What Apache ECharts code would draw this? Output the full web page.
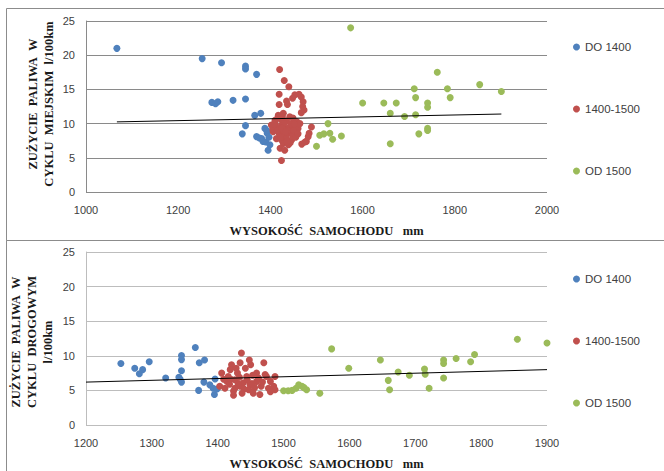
<!DOCTYPE html>
<html><head><meta charset="utf-8">
<script src="https://cdn.jsdelivr.net/npm/echarts@6/dist/echarts.min.js"></script>
<style>html,body{margin:0;padding:0;background:#fff}#c{width:664px;height:471px}</style>
</head><body><div id="c"></div>
<script>
// ---------- DATA ----------
const seriesNames = ['DO 1400', '1400-1500', 'OD 1500'];
const NB = '\u00a0';
const xTitle = 'WYSOKOŚĆ' + NB + NB + 'SAMOCHODU' + NB + NB + NB + 'mm';
const yTitleTop = 'ZUŻYCIE' + NB + NB + 'PALIWA' + NB + NB + 'W\nCYKLU' + NB + NB + 'MIEJSKIM' + NB + NB + 'l/100km';
const yTitleBottom = 'ZUŻYCIE' + NB + NB + 'PALIWA' + NB + NB + 'W\nCYKLU' + NB + NB + 'DROGOWYM\nl/100km';

// top chart: city cycle
const cityDo1400 = [[1067,21.0],[1252,19.5],[1294,18.9],[1346,18.4],[1346,18.0],[1370,17.2],[1273,13.1],[1281,12.9],[1286,13.2],[1319,13.4],[1346,13.6],[1366,11.2],[1379,11.5],[1346,9.7],[1339,8.5],[1388,9.3],[1393,8.6],[1370,8.1],[1381,7.8],[1390,7.3],[1399,6.9],[1395,6.1],[1384,7.4],[1376,7.9],[1397,8.0],[1392,9.0]];
const city1400_1500 = [[1420,17.9],[1430,16.3],[1440,15.4],[1419,14.3],[1453,14.2],[1462,14.3],[1467,13.9],[1448,13.7],[1435,13.3],[1437,12.8],[1419,12.8],[1471,13.2],[1470,12.5],[1473,12.0],[1467,11.6],[1428,11.5],[1417,11.2],[1442,11.0],[1449,10.8],[1410,10.5],[1424,10.6],[1435,10.4],[1457,10.3],[1402,9.8],[1413,9.5],[1424,9.8],[1431,9.3],[1442,9.5],[1453,9.5],[1460,9.3],[1406,8.8],[1419,8.6],[1428,8.3],[1439,8.6],[1448,8.3],[1457,8.7],[1413,7.8],[1424,7.6],[1435,7.8],[1446,7.6],[1428,7.1],[1439,6.9],[1421,6.4],[1431,6.1],[1424,4.6],[1489,9.5],[1484,8.6],[1482,8.1],[1478,7.4],[1468,7.0],[1475,7.3],[1464,10.0],[1405,9.2],[1410,10.2],[1415,9.0],[1422,8.0],[1430,10.0],[1438,9.0],[1445,10.0],[1450,9.0],[1455,8.0],[1460,8.5],[1425,9.3],[1433,8.8],[1443,7.2],[1416,10.8],[1426,11.0],[1408,9.9],[1452,9.9],[1436,7.4]];
const cityOd1500 = [[1574,24.0],[1762,17.5],[1712,15.1],[1784,15.1],[1854,15.7],[1901,14.7],[1600,13.0],[1646,13.0],[1673,13.0],[1715,13.8],[1790,13.8],[1741,13.0],[1741,12.4],[1660,11.5],[1691,11.05],[1715,11.3],[1525,10.0],[1507,8.3],[1516,8.5],[1529,8.6],[1535,7.7],[1554,8.2],[1660,7.05],[1722,8.5],[1741,9.3],[1741,9.0],[1500,6.7]];
const cityTrendX = [1067, 1901];
const cityTrendY = [10.25, 11.4];

// bottom chart: highway cycle
const roadDo1400 = [[1253,8.9],[1274,8.2],[1281,7.4],[1286,8.0],[1296,9.15],[1321,6.8],[1341,6.9],[1345,10.05],[1345,9.45],[1345,7.85],[1345,6.2],[1343,6.6],[1366,11.2],[1372,9.0],[1380,9.4],[1371,5.0],[1379,6.2],[1388,5.8],[1393,5.3],[1395,4.4],[1396,6.65],[1399,5.2]];
const road1400_1500 = [[1436,10.4],[1421,8.7],[1448,9.4],[1450,8.7],[1406,7.5],[1419,8.0],[1442,8.2],[1459,7.5],[1474,7.0],[1414,6.3],[1426,6.55],[1439,6.1],[1449,5.8],[1459,6.3],[1411,5.3],[1424,4.9],[1434,5.6],[1447,5.1],[1454,4.6],[1464,4.4],[1424,4.3],[1470,9.0],[1472,7.3],[1487,7.0],[1480,6.3],[1485,5.6],[1477,5.3],[1487,5.1],[1480,4.8],[1430,7.5],[1434,9.0],[1428,8.2],[1444,7.0],[1416,7.0],[1453,7.2],[1403,5.6],[1418,5.9],[1431,6.0],[1440,5.2],[1452,6.0],[1462,6.8],[1466,5.6],[1409,6.6],[1437,4.6],[1426,5.3],[1445,6.5],[1456,5.4],[1420,6.6],[1468,6.2],[1433,6.9]];
const roadOd1500 = [[1573,11.0],[1599,8.2],[1500,4.95],[1507,4.95],[1523,5.8],[1528,5.6],[1519,5.3],[1535,5.1],[1555,4.6],[1647,9.4],[1659,6.45],[1661,5.1],[1674,7.65],[1691,7.2],[1714,8.1],[1715,7.35],[1721,5.3],[1743,9.4],[1743,8.9],[1743,6.8],[1762,9.6],[1784,9.15],[1790,10.2],[1855,12.4],[1900,11.85],[1513,5.0],[1531,5.4]];
const roadTrendX = [1200, 1900];
const roadTrendY = [6.2, 8.0];

const topXTicks = {min: 1000, max: 2000, interval: 200};
const bottomXTicks = {min: 1200, max: 1900, interval: 100};
const yTicks = {min: 0, max: 25, interval: 5};

// ---------- CHART ----------
const colors = ['#4F81BD', '#C0504D', '#9BBB59'];
const chart = echarts.init(document.getElementById('c'), null, {renderer: 'svg'});
const tickFont = {fontFamily: 'Liberation Sans, Arial, sans-serif', fontSize: 11, color: '#404040'};
const serif = 'Liberation Serif, Times New Roman, serif';
const titleFont = {fontFamily: serif, fontSize: 12.5, fontWeight: 'bold', color: '#1a1a1a'};

function xAxis(idx, t) {
  return {gridIndex: idx, type: 'value', min: t.min, max: t.max, interval: t.interval,
    axisLine: {show: false}, axisTick: {show: false}, splitLine: {show: false},
    axisLabel: Object.assign({margin: 12, formatter: v => String(v)}, tickFont),
    name: xTitle, nameLocation: 'middle', nameGap: 32,
    nameTextStyle: Object.assign({padding: [0, 0, 0, 20]}, titleFont)};
}
function yAxis(idx, gridColor) {
  return {gridIndex: idx, type: 'value', min: yTicks.min, max: yTicks.max, interval: yTicks.interval,
    axisLine: {show: true, lineStyle: {color: gridColor, width: 1}}, axisTick: {show: false},
    splitLine: {show: true, lineStyle: {color: gridColor, width: 1}},
    axisLabel: Object.assign({margin: 11}, tickFont)};
}
function scatter(name, data, i, xi) {
  return {name, type: 'scatter', data, xAxisIndex: xi, yAxisIndex: xi, symbolSize: 7,
    itemStyle: {color: colors[i], opacity: 1}, z: 3};
}
function trend(xs, ys, xi) {
  return {type: 'line', data: xs.map((x, k) => [x, ys[k]]), xAxisIndex: xi, yAxisIndex: xi,
    symbol: 'none', lineStyle: {color: '#000', width: 1}, z: 4, silent: true};
}
function legend(top) {
  return {data: seriesNames.map(n => ({name: n, icon: 'circle'})), orient: 'vertical', left: 568, top,
    itemWidth: 7, itemHeight: 7, itemGap: 48,
    textStyle: {fontFamily: 'Liberation Sans, Arial, sans-serif', fontSize: 11.5, color: '#404040', lineHeight: 14}};
}
function yTitle(text, x, y) {
  return {type: 'text', x, y, rotation: Math.PI / 2, silent: true,
    style: {text, fontFamily: serif, fontSize: 12.5, fontWeight: 'bold', fill: '#1a1a1a',
      align: 'center', verticalAlign: 'middle', lineHeight: 16}};
}

chart.setOption({
  animation: false,
  backgroundColor: '#fff',
  grid: [
    {left: 86, top: 21, width: 461, height: 171},
    {left: 86, top: 252, width: 461, height: 173}
  ],
  xAxis: [xAxis(0, topXTicks), xAxis(1, bottomXTicks)],
  yAxis: [yAxis(0, '#8a8a8a'), yAxis(1, '#bdbdbd')],
  legend: [legend(35), legend(267)],
  series: [
    scatter(seriesNames[0], cityDo1400, 0, 0),
    scatter(seriesNames[1], city1400_1500, 1, 0),
    scatter(seriesNames[2], cityOd1500, 2, 0),
    trend(cityTrendX, cityTrendY, 0),
    scatter(seriesNames[0], roadDo1400, 0, 1),
    scatter(seriesNames[1], road1400_1500, 1, 1),
    scatter(seriesNames[2], roadOd1500, 2, 1),
    trend(roadTrendX, roadTrendY, 1)
  ],
  graphic: [
    {type: 'rect', shape: {x: 6.5, y: 8.5, width: 700, height: 232}, style: {fill: 'none', stroke: '#8c8c8c', lineWidth: 1}, silent: true, z: -1},
    {type: 'rect', shape: {x: 6.5, y: 240.5, width: 700, height: 240}, style: {fill: 'none', stroke: '#8c8c8c', lineWidth: 1}, silent: true, z: -1},
    yTitle(yTitleTop, 40.5, 104),
    yTitle(yTitleBottom, 32, 342)
  ]
});
</script></body></html>
